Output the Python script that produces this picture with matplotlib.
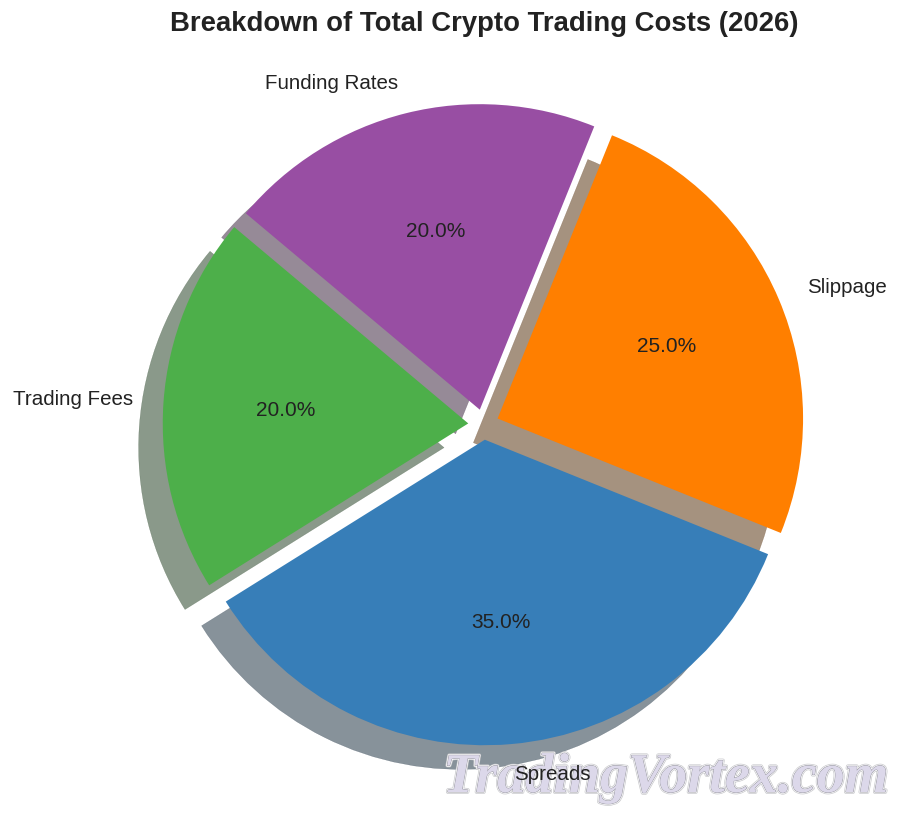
import matplotlib
matplotlib.use("Agg")
import matplotlib.pyplot as plt
import matplotlib.patheffects as pe

plt.rcParams['font.family'] = ['Liberation Sans', 'DejaVu Sans']

labels = ["Trading Fees", "Spreads", "Slippage", "Funding Rates"]
values = [20, 35, 25, 20]
colors = ["#4daf4a", "#377eb8", "#ff7f00", "#984ea3"]
explode = [0.05, 0.05, 0.05, 0.05]
title = "Breakdown of Total Crypto Trading Costs (2026)"
watermark = "TradingVortex.com"

W, H = 900, 819
cx, cy, r = 483.5, 424.5, 305.5

fig = plt.figure(figsize=(W / 100, H / 100), dpi=100)
ax = fig.add_axes([0, 0, 1, 1])
wedges, texts, autotexts = ax.pie(
    values, labels=labels, colors=colors, explode=explode, autopct='%1.1f%%',
    shadow={'ox': -0.057, 'oy': -0.057, 'shade': 0.7, 'linewidth': 0.2},
    startangle=140, radius=1.0,
    textprops={'fontsize': 15, 'color': '#222222'})
for t in texts:
    t.set_fontsize(14.8)
ax.set_xlim(-cx / r, (W - cx) / r)
ax.set_ylim((cy - H) / r, cy / r)
ax.set_aspect('equal')

fig.text(484 / W, 1 - 24 / H, title, ha='center', va='center', fontsize=19.85,
         fontweight='bold', color='#222222')
ax.text(666 / W, 1 - 778 / H, watermark, transform=fig.transFigure, ha='center', va='center',
        fontsize=40.4, fontweight='bold', family=['Liberation Serif'], style='italic',
        color='#dcd8ea', zorder=2,
        path_effects=[pe.Stroke(linewidth=2.6, foreground='#c6c6ca'),
                      pe.Stroke(linewidth=1.7, foreground='#fafafb'),
                      pe.Stroke(linewidth=0.6, foreground='#8f8f96'),
                      pe.Normal()])
fig.savefig("out.png", dpi=100)
